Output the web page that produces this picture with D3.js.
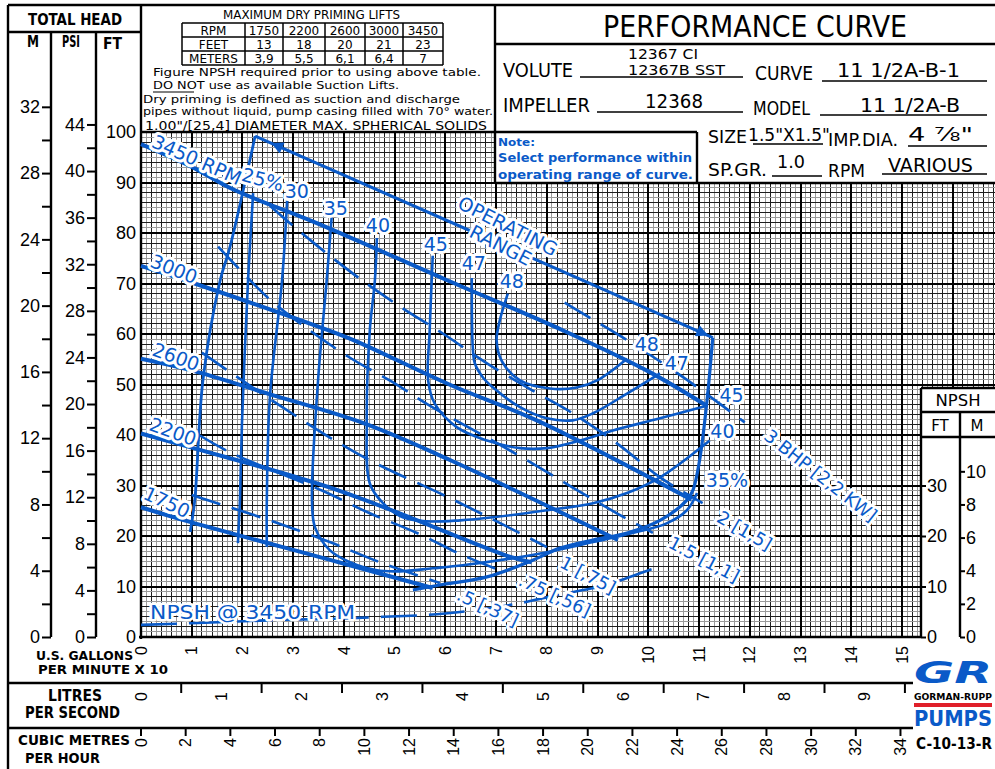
<!DOCTYPE html>
<html>
<head>
<meta charset="utf-8">
<script src="https://cdn.jsdelivr.net/npm/d3@7"></script>
<style>
  body { margin: 0; background: #fff; }
  svg { display: block; }
</style>
</head>
<body>
<svg id="chart" width="995" height="769"></svg>
<script>
// head-capacity curves, [gpm, ft]
const rpmNames = ["3450 RPM", "3000", "2600", "2200", "1750"];
const rpm3450 = [[0,97.6],[10,93.1],[18,88.7],[35,81.8],[60,70.8],[83,60.8],[100,52.6],[111.5,45.8]];
const rpm3000 = [[0,73.5],[10,70.2],[37,60.7],[43,58.3],[61,49.9],[78,42.9],[108.5,27.2]];
const rpm2600 = [[0,55.1],[10,52.8],[25,48.2],[44,42.3],[61,35],[94,19.2]];
const rpm2200 = [[0,40.3],[10,37.5],[39,29],[73,15.8],[77,14.8]];
const rpm1750 = [[0,25.7],[10,22.7],[39,14.8],[57.5,9.7]];
const rpmCurves = [rpm3450, rpm3000, rpm2600, rpm2200, rpm1750];
// label anchor [gpm, ft, angle]
const rpmLabelPos = [[11,94.5,24],[6.5,72.9,22],[6.9,55.5,20],[6.3,40.7,20],[5.1,26.7,25]];

// efficiency curves
const effNames = ["25%", "30", "35", "40", "45", "47", "48"];
const eff25 = [[22.1,87.9],[21.1,70.6],[19.9,42.3],[19.5,27.1],[19.1,18.6]];
const eff30 = [[28.8,86.4],[27.8,70.6],[25.4,47.4],[24.8,27.1],[24.8,17.8]];
const eff35 = [[37.6,83.4],[36.6,70.6],[34.9,50.8],[33.7,27.1],[34.3,21.7],[37.2,17.2],[41.2,14.8],[46.5,13.2],[51,13],[57.5,13.6],[63.4,14.2],[73.3,15.6],[80,16.8],[89.1,18.8],[96.9,20.6],[103.6,22.5],[107.6,25.1],[109.6,28.5]];
const eff40 = [[46.5,79],[46.1,70.6],[45.1,60.7],[44.5,42.3],[45.1,30.4],[47.7,26.5],[51.6,23.7],[56.4,22.9],[62.9,23.1],[69.4,23.7],[80,25.1],[89.1,26.5],[95.8,28.5],[102.3,31.6],[112.1,38.9]];
const eff45 = [[57.5,75.5],[56.9,60.7],[56.6,50.8],[57.9,46.2],[62.3,41.5],[68.2,38.9],[74.7,37.4],[80,37.4],[86.5,38.9],[93,40.9],[102.3,43.3],[111.5,45.8]];
const eff47 = [[65.2,71.1],[65.4,57.3],[65.8,54.2],[67.4,51.4],[69.4,49.4],[74.7,45.5],[80,43.3],[85.1,42.9],[89.1,44.3],[95.8,48.2],[102.3,52.2]];
const eff48 = [[72.3,68],[70.7,62.6],[70.1,58.7],[71.1,54.7],[74.7,50.8],[80.6,49.2],[85.9,49.4],[89.9,50.8],[95.8,55.1]];
const effCurves = [eff25, eff30, eff35, eff40, eff45, eff47, eff48];
const effTopPos = [[24,90.6,15],[30.7,88.3,0],[38.4,85,0],[46.7,81.6,0],[58.1,77.8,0],[65.6,74.1,0],[73.1,70.4,0]];
const effRightNames = ["48", "47", "45", "40", "35%"];
const effRightPos = [[99.7,58],[105.6,54.3],[116.4,47.9],[114.6,40.8],[115.5,31]];

// brake horsepower lines
const bhpNames = [".5 [,37]", ".75 [,56]", "1 [,75]", "1.5 [1,1]", "2 [1,5]", "3 BHP [2,2 KW]"];
const bhp05 = [[10,28.1],[25.4,23.1],[37.2,18.8],[47.1,14.8],[58.9,10.7]];
const bhp075 = [[11.6,39.9],[17.5,36.6],[35.9,28.9],[45.1,24.5],[54.4,20.6],[63.4,16.2],[70.7,13.2]];
const bhp1 = [[12,56.3],[26.8,46.2],[43.2,36],[60.9,27.5],[70.9,22.5],[80,17.8]];
const bhp15 = [[15.2,77.3],[25,67.2],[31.9,61.7],[41.2,55.3],[49.7,50.4],[56.9,45.8],[68.2,39.5],[76.1,35],[85.1,29.6],[93.8,24.5],[100.9,20.6]];
const bhp2 = [[25.4,85.4],[29.3,82],[34.7,77.5],[43.2,70.9],[51.4,65.2],[59.5,60.1],[68.2,54.2],[77.2,48.8],[85.1,44.3],[94.4,37.9],[102.3,31.6],[110.7,26.5]];
const bhp3 = [[83.5,66.2],[88.5,63.2],[96.9,58.1],[107.2,51.2],[119,42.5]];
const bhpCurves = [bhp05, bhp075, bhp1, bhp15, bhp2, bhp3];
const bhpLabelPos = [[68.4,5.9,25],[81.6,8.3,25],[88.1,12.3,28],[111,15.4,28],[119,21.1,30],[134,32,38]];

// operating range
const opTop = [[22.5,99.2],[112.7,59.3]];
const opLeft = [[22.5,99.2],[17.5,77.1],[15.6,70.6],[12.2,50.8],[10.6,27.1],[9.7,20.8]];
const opRight = [[112.7,59.3],[111.5,46.2],[110.1,35],[108.8,29.1],[107.6,27.1],[102.3,23.1],[95.8,20.6],[89.1,19.2],[82.6,17.6],[77.2,15.2],[68.2,11.9],[58.9,10.3],[53.6,9.3]];

// NPSH required @ 3450
const npsh3450 = [[0,2.4],[17.5,3],[27.8,3.4],[37.8,3.6],[47.7,4],[58.3,4.5],[65.8,5.3],[74.7,6.7],[79.2,7.7],[87.1,9.3],[91.8,10.3],[95.8,11.7],[102.9,14.2]];

// axes
const gpmTicks = d3.range(0, 16);          // x 10 gpm
const ftTicks = d3.range(0, 101, 10);
const mTicks = d3.range(0, 33, 2);
const psiTicks = d3.range(0, 45, 2);
const litreTicks = [0, 1, 2, 3, 4, 5, 6, 7, 8, 9];
const litreHalfTicks = [0.5, 1.5, 2.5, 3.5, 4.5, 5.5, 6.5, 7.5, 8.5, 9.5];
const m3Ticks = d3.range(0, 35, 2);
const npshFtTicks = [0, 10, 20, 30];
const npshMTicks = [0, 2, 4, 6, 8, 10];

// dry priming table
const primeRpm = ["1750", "2200", "2600", "3000", "3450"];
const primeFeet = ["13", "18", "20", "21", "23"];
const primeMeters = ["3,9", "5,5", "6,1", "6,4", "7"];

const blue = "#0a5ac8";
const svg = d3.select("#chart");
const x = d3.scaleLinear().domain([0, 150]).range([141, 902]);
const y = d3.scaleLinear().domain([0, 100]).range([637, 132]);
const FT_PER_M = 3.2808, FT_PER_PSI = 2.3067, GPM_PER_LS = 15.850, GPM_PER_M3H = 4.4029;

//grid, clipped to the plot outline
svg.append("clipPath").attr("id", "gclip").append("path")
  .attr("d", "M141,132H495V183H995V388H921V637H141Z");
const grid = svg.append("g").attr("clip-path", "url(#gclip)").attr("shape-rendering", "crispEdges");
const vAll = d3.range(0, 170), hAll = d3.range(0, 101);
const minorColor = d => d % 2 ? "#9a9a9a" : "#1e1e1e";
grid.selectAll(".vmin").data(vAll.filter(d => d % 10)).join("line")
  .attr("x1", d => x(d)).attr("x2", d => x(d))
  .attr("y1", 132).attr("y2", 637).attr("stroke", minorColor).attr("stroke-width", 1);
grid.selectAll(".hmin").data(hAll.filter(d => d % 10)).join("line")
  .attr("y1", d => y(d)).attr("y2", d => y(d)).attr("x1", 141).attr("x2", 995)
  .attr("stroke", minorColor).attr("stroke-width", 1);
grid.selectAll(".vmaj").data(vAll.filter(d => d % 10 === 0)).join("line")
  .attr("x1", d => x(d)).attr("x2", d => x(d)).attr("y1", 132).attr("y2", 637)
  .attr("stroke", "#000").attr("stroke-width", 2);
grid.selectAll(".hmaj").data(hAll.filter(d => d % 10 === 0)).join("line")
  .attr("y1", d => y(d)).attr("y2", d => y(d)).attr("x1", 141).attr("x2", 995)
  .attr("stroke", "#000").attr("stroke-width", 2);

//frame lines
const frame = [
  [8,5,995,5],[8,5,8,769],[8,32,141,32],[141,5,141,639],[141,132,697,132],[495,5,495,183],
  [495,183,995,183],[697,132,697,183],[495,44,995,44],[139,637,921,637],[921,388,921,637],
  [921,388,995,388],[921,412,995,412],[921,437,995,437],[8,683,913,683],[8,728,913,728],
  [51,32,51,637],[96,32,96,637],[960,412,960,637]
];
svg.append("g").selectAll("line").data(frame).join("line")
  .attr("x1", d => d[0]).attr("y1", d => d[1]).attr("x2", d => d[2]).attr("y2", d => d[3])
  .attr("stroke", "#000").attr("stroke-width", 2.4);

//left head axes
function styleAxis(g, size) {
  g.select(".domain").remove();
  g.attr("font-family", "Liberation Sans, Arial, sans-serif").attr("font-size", size);
  g.selectAll("line").attr("stroke", "#000").attr("stroke-width", 2);
  g.selectAll("text").attr("fill", "#000");
}
const yM = d3.scaleLinear().domain([0, 100 / FT_PER_M]).range([637, 132]);
const yP = d3.scaleLinear().domain([0, 100 / FT_PER_PSI]).range([637, 132]);
svg.append("g").attr("transform", "translate(51,0)")
  .call(d3.axisLeft(yM).tickValues(mTicks).tickSize(9).tickPadding(2).tickFormat(d => d % 4 === 0 ? d : ""))
  .call(g => styleAxis(g, 18));
svg.append("g").attr("transform", "translate(96,0)")
  .call(d3.axisLeft(yP).tickValues(psiTicks).tickSize(9).tickPadding(2).tickFormat(d => d % 4 === 0 ? d : ""))
  .call(g => styleAxis(g, 18));
svg.append("g").attr("transform", "translate(141,0)")
  .call(d3.axisLeft(y).tickValues(ftTicks).tickSize(0).tickPadding(5))
  .call(g => styleAxis(g, 18));

//NPSH axes
svg.append("g").attr("transform", "translate(921,0)")
  .call(d3.axisRight(y).tickValues(npshFtTicks).tickSize(5).tickPadding(1))
  .call(g => styleAxis(g, 18));
svg.append("g").attr("transform", "translate(960,0)")
  .call(d3.axisRight(yM).tickValues(npshMTicks).tickSize(5).tickPadding(1))
  .call(g => styleAxis(g, 18));

//bottom flow scales (labels read bottom-to-top)
const rotFont = "Liberation Sans, Arial, sans-serif";
function rotLabels(vals, px, top) {
  svg.append("g").selectAll("text").data(vals).join("text")
    .attr("transform", d => `translate(${px(d)},${top}) rotate(-90)`)
    .attr("text-anchor", "end").attr("dy", "0.35em")
    .attr("font-family", rotFont).attr("font-size", 16).text(d => d);
}
function tickMarks(vals, px, y1, y2) {
  svg.append("g").selectAll("line").data(vals).join("line")
    .attr("x1", d => px(d)).attr("x2", d => px(d)).attr("y1", y1).attr("y2", y2)
    .attr("stroke", "#000").attr("stroke-width", 2);
}
rotLabels(gpmTicks, d => x(d * 10), 646);
const xL = v => x(v * GPM_PER_LS);
tickMarks(litreHalfTicks, xL, 683, 693);
rotLabels(litreTicks, xL, 692);
const xC = v => x(v * GPM_PER_M3H);
tickMarks(m3Ticks, xC, 728, 736);
rotLabels(m3Ticks, xC, 738);

//plain text helper
function txt(s, px, py, opts = {}) {
  const t = svg.append("text").attr("x", px).attr("y", py)
    .attr("font-family", opts.family || "DejaVu Sans, sans-serif")
    .attr("font-size", opts.size || 14)
    .attr("font-weight", opts.weight || "normal")
    .attr("fill", opts.fill || "#000")
    .attr("text-anchor", opts.anchor || "start")
    .text(s);
  if (opts.len) t.attr("textLength", opts.len).attr("lengthAdjust", "spacingAndGlyphs");
  return t;
}
const narrow = "Liberation Sans Narrow, DejaVu Sans Condensed, sans-serif";
txt("TOTAL HEAD", 28, 25, {size: 16, weight: "bold", len: 94});
txt("M", 27, 47, {size: 15, weight: "bold", len: 12});
txt("PSI", 62, 47, {size: 15, weight: "bold", len: 18});
txt("FT", 103, 49, {size: 16, weight: "bold", len: 19});
txt("U.S. GALLONS", 36, 660, {size: 12.5, weight: "bold", family: narrow, len: 97});
txt("PER MINUTE X 10", 38, 674, {size: 12.5, weight: "bold", family: narrow, len: 130});
txt("LITRES", 48, 701, {size: 15, weight: "bold", family: narrow, len: 54});
txt("PER SECOND", 25, 718, {size: 15, weight: "bold", family: narrow, len: 95});
txt("CUBIC METRES", 18, 745, {size: 14, weight: "bold", family: narrow, len: 112});
txt("PER HOUR", 25, 763, {size: 14, weight: "bold", family: narrow, len: 75});
txt("NPSH", 958, 406, {size: 16, anchor: "middle", len: 45});
txt("FT", 940, 431, {size: 15, anchor: "middle"});
txt("M", 977, 431, {size: 15, anchor: "middle"});

//dry priming table
txt("MAXIMUM DRY PRIMING LIFTS", 223, 19, {size: 11.5, len: 177});
const colX = [182, 245, 283, 325, 365, 403, 443];
const rowY = [23, 37, 51, 65];
const tbl = svg.append("g").attr("stroke", "#000").attr("stroke-width", 1.5);
rowY.forEach(r => tbl.append("line").attr("x1", 182).attr("x2", 443).attr("y1", r).attr("y2", r));
colX.forEach(c => tbl.append("line").attr("x1", c).attr("x2", c).attr("y1", 23).attr("y2", 65));
const rows = [["RPM"].concat(primeRpm), ["FEET"].concat(primeFeet), ["METERS"].concat(primeMeters)];
rows.forEach((row, i) => row.forEach((cell, j) => {
  txt(cell, (colX[j] + colX[j + 1]) / 2, rowY[i] + 12, {size: 12, anchor: "middle"});
}));
txt("Figure NPSH required prior to using above table.", 153, 76, {size: 10.5, len: 328});
txt("DO NOT use as available Suction Lifts.", 153, 89, {size: 10.5, len: 246});
svg.append("line").attr("x1", 153).attr("x2", 194).attr("y1", 92).attr("y2", 92).attr("stroke", "#000");
txt("Dry priming is defined as suction and discharge", 143, 103, {size: 10.5, len: 317});
txt("pipes without liquid, pump casing filled with 70\u00b0 water.", 143, 115, {size: 10.5, len: 350});
txt("1.00\"/[25,4] DIAMETER  MAX. SPHERICAL  SOLIDS", 145, 130, {size: 13, len: 342});

//title block
txt("PERFORMANCE CURVE", 603, 37, {size: 30, len: 304});
txt("VOLUTE", 503, 77, {size: 19, len: 70});
txt("12367 CI", 628, 59, {size: 14, len: 70});
txt("12367B SST", 628, 75, {size: 14, len: 97});
txt("CURVE", 755, 80, {size: 19, len: 58});
txt("11 1/2A-B-1", 837, 77, {size: 19, len: 123});
txt("IMPELLER", 503, 112, {size: 19, len: 87});
txt("12368", 645, 108, {size: 20, len: 58});
txt("MODEL", 753, 115, {size: 19, len: 57});
txt("11 1/2A-B", 860, 112, {size: 19, len: 100});
txt("SIZE", 708, 143, {size: 18, len: 39});
txt("1.5\"X1.5\"", 748, 141, {size: 18, len: 82});
txt("IMP.DIA.", 828, 146, {size: 18, len: 70});
txt("4 \u215e\"", 908, 141, {size: 20, len: 65});
txt("SP.GR.", 708, 176, {size: 18, len: 59});
txt("1.0", 777, 168, {size: 18, len: 28});
txt("RPM", 828, 177, {size: 18, len: 37});
txt("VARIOUS", 888, 172, {size: 19, len: 85});
const ul = [[580,743,77],[822,987,81],[597,743,112],[820,987,115],[753,823,144],[908,987,146],[772,822,176],[882,987,174]];
svg.append("g").selectAll("line").data(ul).join("line")
  .attr("x1", d => d[0]).attr("x2", d => d[1]).attr("y1", d => d[2]).attr("y2", d => d[2])
  .attr("stroke", "#000").attr("stroke-width", 1.3);
txt("Note:", 498, 146, {size: 11, weight: "bold", fill: blue, len: 37});
txt("Select performance within", 498, 162, {size: 12, weight: "bold", fill: blue, len: 194});
txt("operating range of curve.", 498, 179, {size: 12, weight: "bold", fill: blue, len: 195});

//curves
const curveLine = d3.line().x(d => x(d[0])).y(d => y(d[1])).curve(d3.curveCatmullRom.alpha(0.5));
const plot = svg.append("g").attr("fill", "none").attr("stroke", blue).attr("stroke-linecap", "butt");
plot.selectAll(".bhp").data(bhpCurves).join("path").attr("d", curveLine)
  .attr("stroke-width", 2.6).attr("stroke-dasharray", "30,12");
plot.append("path").datum(npsh3450).attr("d", curveLine)
  .attr("stroke-width", 2.6).attr("stroke-dasharray", "36,12");
plot.selectAll(".eff").data(effCurves).join("path").attr("d", curveLine).attr("stroke-width", 2.6);
plot.append("path").datum(opLeft).attr("d", curveLine).attr("stroke-width", 2.8);
plot.append("path").datum(opRight).attr("d", curveLine).attr("stroke-width", 3.2);
plot.selectAll(".rpm").data(rpmCurves).join("path").attr("d", curveLine).attr("stroke-width", 4);

//operating range arrow
svg.append("defs").append("marker").attr("id", "arr").attr("viewBox", "0 0 10 10")
  .attr("refX", 10).attr("refY", 5).attr("markerWidth", 6).attr("markerHeight", 4)
  .attr("markerUnits", "strokeWidth").attr("orient", "auto-start-reverse")
  .append("path").attr("d", "M0,0L10,5L0,10Z").attr("fill", blue);
const [a0, a1] = opTop;
const along = t => [x(a0[0] + (a1[0] - a0[0]) * t), y(a0[1] + (a1[1] - a0[1]) * t)];
plot.append("path").attr("d", `M${along(0)}L${along(1)}`).attr("stroke-width", 3);
plot.append("path").attr("d", `M${along(0.035)}L${along(0.99)}`)
  .attr("stroke-width", 3).attr("stroke", "none")
  .attr("marker-start", "url(#arr)").attr("marker-end", "url(#arr)");

//blue labels with white knockout
const labels = svg.append("g").attr("font-family", "DejaVu Sans, sans-serif").attr("fill", blue)
  .attr("stroke", "#fff").attr("stroke-linejoin", "round").attr("paint-order", "stroke");
function blueLabel(s, gx, gy, ang, size, sw = 6) {
  return labels.append("text")
    .attr("transform", `translate(${x(gx)},${y(gy)}) rotate(${ang})`)
    .attr("text-anchor", "middle").attr("dy", "0.36em")
    .attr("font-size", size).attr("stroke-width", sw).text(s);
}
rpmNames.forEach((n, i) => blueLabel(n, rpmLabelPos[i][0], rpmLabelPos[i][1], rpmLabelPos[i][2], 19));
effNames.forEach((n, i) => blueLabel(n, effTopPos[i][0], effTopPos[i][1], effTopPos[i][2], 19));
effRightNames.forEach((n, i) => blueLabel(n, effRightPos[i][0], effRightPos[i][1], 0, 19));
bhpNames.forEach((n, i) => blueLabel(n, bhpLabelPos[i][0], bhpLabelPos[i][1], bhpLabelPos[i][2], 18));
blueLabel("OPERATING", 72.3, 81.4, 27, 19);
blueLabel("RANGE", 70.9, 77.6, 27, 19);
labels.append("text").attr("x", x(1.8)).attr("y", y(3.6)).attr("font-size", 20)
  .attr("stroke-width", 5).attr("textLength", 205).attr("lengthAdjust", "spacingAndGlyphs")
  .text("NPSH @ 3450 RPM");

//logo and drawing number
txt("GR", 914, 683, {size: 30, weight: "bold", fill: blue, family: narrow, len: 78}).attr("font-style", "italic");
txt("GORMAN-RUPP", 914, 700, {size: 9.5, weight: "bold", family: narrow, len: 78});
svg.append("rect").attr("x", 914).attr("y", 703).attr("width", 78).attr("height", 4).attr("fill", "#e0202a");
txt("PUMPS", 914, 726, {size: 22, weight: "bold", fill: blue, family: narrow, len: 78});
txt("C-10-13-R", 916, 749, {size: 15, weight: "bold", family: narrow, len: 76});
</script>
</body>
</html>
